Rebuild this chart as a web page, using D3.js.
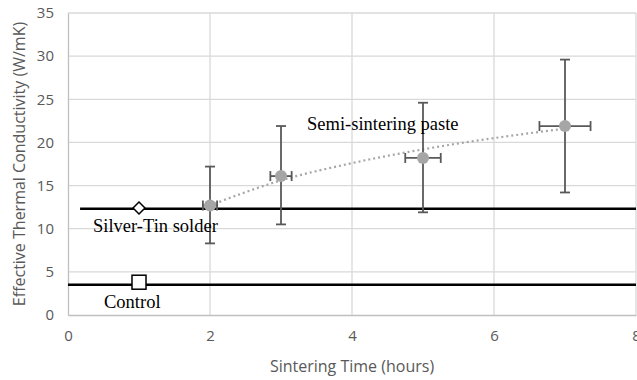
<!DOCTYPE html>
<html>
<head>
<meta charset="utf-8">
<script src="https://cdn.jsdelivr.net/npm/d3@7"></script>
<style>
body { margin: 0; background: #fff; }
</style>
</head>
<body>
<svg width="637" height="380"></svg>
<script>
// semi-sintering paste measurements
var hours = [2, 3, 5, 7]
var conductivity = [12.7, 16.1, 18.2, 21.9]
var errLow = [8.3, 10.5, 11.9, 14.2]
var errHigh = [17.2, 21.9, 24.6, 29.6]
var errX = [0.1, 0.15, 0.25, 0.36]
// dotted trend line
var trendHours = [2, 3, 4, 5, 6, 7]
var trendValues = [12.7, 15.6, 17.6, 19.2, 20.5, 21.6]
// reference lines
var refNames = ["Silver-Tin solder", "Control"]
var refValues = [12.3, 3.5]
var refStart = [0.17, 0]
var refMarkerX = [1, 1]
var refMarkerY = [12.4, 3.8]
var xTicks = [0, 2, 4, 6, 8]
var yTicks = [0, 5, 10, 15, 20, 25, 30, 35]

var svg = d3.select('svg')
var width = 637
var height = 380
var margin = {left: 68, right: 1, top: 13, bottom: 65}

var x = d3.scaleLinear()
  .domain([0, 8])
  .range([margin.left, width - margin.right])
var y = d3.scaleLinear()
  .domain([0, 35])
  .range([height - margin.bottom, margin.top])

// grid
svg.append("g")
  .selectAll("line")
  .data(yTicks.slice(1))
  .enter().append("line")
    .attr("x1", x(0)).attr("x2", x(8))
    .attr("y1", d => y(d)).attr("y2", d => y(d))
    .attr("stroke", "#d9d9d9").attr("stroke-width", 1.3)
svg.append("g")
  .selectAll("line")
  .data(xTicks.slice(1))
  .enter().append("line")
    .attr("x1", d => x(d)).attr("x2", d => x(d))
    .attr("y1", y(0)).attr("y2", y(35))
    .attr("stroke", "#d9d9d9").attr("stroke-width", 1.3)

// axes
var xAxis = g => g
  .attr("transform", `translate(0,${y(0)})`)
  .call(d3.axisBottom(x).tickValues(xTicks).tickSize(0).tickPadding(15))
  .call(g => g.select(".domain").attr("stroke", "#bfbfbf").attr("stroke-width", 1.3))
var yAxis = g => g
  .attr("transform", `translate(${x(0)},0)`)
  .call(d3.axisLeft(y).tickValues(yTicks).tickSize(0).tickPadding(14))
  .call(g => g.select(".domain").attr("stroke", "#bfbfbf").attr("stroke-width", 1.3))
svg.append("g").call(xAxis)
svg.append("g").call(yAxis)
svg.selectAll(".tick text")
  .attr("fill", "#595959")
  .style("font", "15px 'Open Sans', sans-serif")

svg.append("text")
  .attr("x", (x(0) + x(8)) / 2)
  .attr("y", 372)
  .attr("text-anchor", "middle")
  .attr("fill", "#595959")
  .style("font", "16px 'Open Sans', sans-serif")
  .text("Sintering Time (hours)")
svg.append("text")
  .attr("transform", `translate(25,${(y(0) + y(35)) / 2}) rotate(-90)`)
  .attr("text-anchor", "middle")
  .attr("fill", "#595959")
  .style("font", "16px 'Open Sans', sans-serif")
  .text("Effective Thermal Conductivity (W/mK)")

// reference lines
svg.append("g")
  .selectAll("line")
  .data(refValues)
  .enter().append("line")
    .attr("x1", (d, i) => x(refStart[i])).attr("x2", x(8))
    .attr("y1", d => y(d)).attr("y2", d => y(d))
    .attr("stroke", "#000").attr("stroke-width", 2.5)

// diamond marker
svg.append("path")
  .attr("d", d3.symbol(d3.symbolDiamond2, 90)())
  .attr("transform", `translate(${x(refMarkerX[0])},${y(refMarkerY[0])})`)
  .attr("fill", "#fff").attr("stroke", "#000").attr("stroke-width", 1.5)
// square marker
svg.append("rect")
  .attr("x", x(refMarkerX[1]) - 7).attr("y", y(refMarkerY[1]) - 7)
  .attr("width", 14).attr("height", 14)
  .attr("fill", "#fff").attr("stroke", "#000").attr("stroke-width", 1.5)

// trend
var line = d3.line()
  .x((d, i) => x(trendHours[i]))
  .y(d => y(d))
  .curve(d3.curveMonotoneX)
svg.append("path")
  .attr("d", line(trendValues))
  .attr("fill", "none")
  .attr("stroke", "#a6a6a6")
  .attr("stroke-width", 2.2)
  .attr("stroke-dasharray", "2,3")

// error bars
var eb = svg.append("g").attr("stroke", "#595959").attr("stroke-width", 1.8)
hours.forEach((h, i) => {
  eb.append("line")
    .attr("x1", x(h)).attr("x2", x(h))
    .attr("y1", y(errLow[i])).attr("y2", y(errHigh[i]))
  ;[errLow[i], errHigh[i]].forEach(v => {
    eb.append("line")
      .attr("x1", x(h) - 5).attr("x2", x(h) + 5)
      .attr("y1", y(v)).attr("y2", y(v))
  })
  eb.append("line")
    .attr("x1", x(h - errX[i])).attr("x2", x(h + errX[i]))
    .attr("y1", y(conductivity[i])).attr("y2", y(conductivity[i]))
  ;[h - errX[i], h + errX[i]].forEach(v => {
    eb.append("line")
      .attr("x1", x(v)).attr("x2", x(v))
      .attr("y1", y(conductivity[i]) - 5).attr("y2", y(conductivity[i]) + 5)
  })
})

svg.append("g")
  .selectAll("circle")
  .data(conductivity)
  .enter().append("circle")
    .attr("cx", (d, i) => x(hours[i]))
    .attr("cy", d => y(d))
    .attr("r", 6)
    .attr("fill", "#a6a6a6")

// labels
var serif = "18.5px 'Liberation Serif', 'Times New Roman', serif"
svg.append("text")
  .attr("x", 93).attr("y", y(refValues[0]) + 23)
  .style("font", serif)
  .text(refNames[0])
svg.append("text")
  .attr("x", 104).attr("y", y(refValues[1]) + 23)
  .style("font", serif)
  .text(refNames[1])
svg.append("text")
  .attr("x", 307).attr("y", 130)
  .style("font", serif)
  .text("Semi-sintering paste")
</script>
</body>
</html>
